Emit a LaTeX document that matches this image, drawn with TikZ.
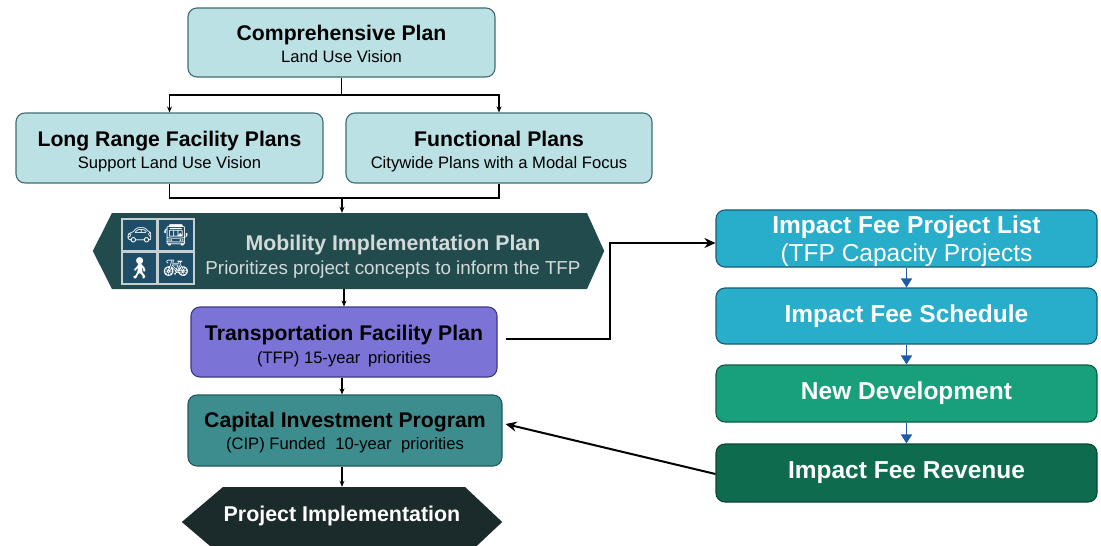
\documentclass[tikz,border=0pt]{standalone}
\usepackage{fontspec}
\setmainfont{Liberation Sans}
\newfontfamily\emojifont{Noto Emoji}
\usetikzlibrary{arrows.meta}
\definecolor{lteal}{HTML}{BCE1E4}
\definecolor{ltealdraw}{HTML}{3F6E72}
\definecolor{mipc}{HTML}{214B4C}
\definecolor{miptext}{HTML}{D3DADA}
\definecolor{iconc}{HTML}{1E4D68}
\definecolor{iconframe}{HTML}{C5CFCF}
\definecolor{tfpc}{HTML}{7B74D6}
\definecolor{tfpdraw}{HTML}{3C3788}
\definecolor{cipc}{HTML}{3D8C8E}
\definecolor{cipdraw}{HTML}{245A5C}
\definecolor{pic}{HTML}{1B2A2A}
\definecolor{cyanc}{HTML}{28AECB}
\definecolor{cyandraw}{HTML}{1A5C78}
\definecolor{ndc}{HTML}{18A07A}
\definecolor{nddraw}{HTML}{0F5844}
\definecolor{ifrc}{HTML}{0F6B4D}
\definecolor{ifrdraw}{HTML}{0A4634}
\definecolor{bluearrow}{HTML}{1F5AA6}
\newcommand\ttlfont{\fontsize{21.2}{25}\selectfont\bfseries}
\newcommand\subfont{\fontsize{16.6}{19}\selectfont}
\newcommand\topstrut[1]{\rule{0pt}{#1}}
\begin{document}
\begin{tikzpicture}[x=1pt,y=-1pt,
  plan/.style={rectangle, rounded corners=9pt, line width=1.1pt, align=center, inner sep=0pt,
    font=\fontsize{16.6}{22}\selectfont},
  lbox/.style={plan, fill=lteal, draw=ltealdraw},
  rbox/.style={plan, text=white, font=\fontsize{24.5}{28}\selectfont\bfseries, minimum width=381pt},
  ghost/.style={rectangle, inner sep=0pt, align=center},
  conn/.style={line width=1.2pt, -{Stealth[length=6pt,width=5pt]}},
  bigconn/.style={line width=2pt, -{Stealth[length=11pt,width=10pt]}},
  blueconn/.style={line width=1.4pt, draw=bluearrow, -{Triangle[length=9pt,width=11pt,fill=bluearrow]}},
]
\useasboundingbox (0,0) rectangle (1101,546);
\clip (0,0) rectangle (1101,546);
\fill[white] (0,0) rectangle (1101,546);

% top boxes
\node[lbox, minimum width=307pt, minimum height=69pt] (comp) at (341.5,42.5)
  {{\ttlfont\topstrut{17.5pt}Comprehensive Plan}\\{\subfont Land Use Vision}};
\node[lbox, minimum width=307pt, minimum height=70pt] (lrfp) at (169.5,148)
  {{\ttlfont\topstrut{22.5pt}Long Range Facility Plans}\\{\subfont Support Land Use Vision}};
\node[lbox, minimum width=306pt, minimum height=70pt] (func) at (499,148)
  {{\ttlfont\topstrut{22.5pt}Functional Plans}\\{\subfont Citywide Plans with a Modal Focus}};

% Mobility Implementation Plan (hexagon)
\node[ghost, minimum width=511pt, minimum height=76pt] (mip) at (348.5,251) {};
\fill[mipc] (mip.west) -- (112,213) -- (587,213) -- (mip.east) -- (587,289) -- (112,289) -- cycle;
\node[ghost, text=miptext, anchor=center, font=\fontsize{18.8}{24}\selectfont] (miptxt) at (393,253)
  {{\fontsize{21.3}{25}\selectfont\bfseries\topstrut{22pt}Mobility Implementation Plan}\\{\fontsize{18.8}{22}\selectfont Prioritizes project concepts to inform the TFP}};
% icons
\fill[iconframe] (121,218) rectangle (195,285);
\fill[iconc] (123,220) rectangle (156,250);
\fill[iconc] (159,220) rectangle (193,250);
\fill[iconc] (123,253) rectangle (156,283);
\fill[iconc] (159,253) rectangle (193,283);
\node[ghost, text=white, font=\emojifont\fontsize{21}{21}\selectfont] (icar) at (139.5,235) {🚗};
\node[ghost, text=white, font=\emojifont\fontsize{21}{21}\selectfont] (ibus) at (176,235) {🚍};
\node[ghost, text=white, font=\emojifont\fontsize{21}{21}\selectfont] (iped) at (139.5,268) {🚶};
\node[ghost, text=white, font=\emojifont\fontsize{21}{21}\selectfont] (ibike) at (176,268) {🚲};

% TFP
\node[plan, fill=tfpc, draw=tfpdraw, minimum width=306pt, minimum height=70pt,
      font=\fontsize{16.6}{23.5}\selectfont] (tfp) at (344,342)
  {{\ttlfont\topstrut{23.5pt}Transportation Facility Plan}\\{\subfont (TFP) 15-year\hspace{0.2em} priorities}};
% CIP
\node[plan, fill=cipc, draw=cipdraw, minimum width=314pt, minimum height=71pt,
      font=\fontsize{16.6}{22.5}\selectfont] (cip) at (345,430.5)
  {{\ttlfont\topstrut{19.5pt}Capital Investment Program}\\{\subfont (CIP) Funded\hspace{0.3em} 10-year\hspace{0.3em} priorities}};
% Project Implementation
\node[ghost, minimum width=320pt, minimum height=70pt] (pi) at (342,522) {};
\fill[pic] (pi.west) -- (223,487) -- (465,487) -- (pi.east) -- (465,557) -- (223,557) -- cycle;
\node[ghost, text=white, font=\fontsize{21.4}{25}\selectfont\bfseries] (pitxt) at (342,516) {Project Implementation};

% right column
\node[rbox, fill=cyanc, draw=cyandraw, minimum height=57pt] (ifpl) at (906.5,238.5)
  {\topstrut{24pt}Impact Fee Project List\\{\mdseries (TFP Capacity Projects}};
\node[rbox, fill=cyanc, draw=cyandraw, minimum height=56pt] (ifs) at (906.5,316) {Impact Fee Schedule};
\node[rbox, fill=ndc, draw=nddraw, minimum height=57pt] (nd) at (906.5,393.5) {New Development};
\node[rbox, fill=ifrc, draw=ifrdraw, minimum height=58pt] (ifr) at (906.5,473) {Impact Fee Revenue};

% connectors, left column
\coordinate (j1) at (341.5,95);
\draw[line width=1.2pt] (comp.south) -- (j1);
\draw[conn] (j1) -| (lrfp.north);
\draw[conn] (j1) -| (func.north);
\coordinate (j2) at (342,198);
\draw[line width=1.2pt] (lrfp.south) |- (j2);
\draw[line width=1.2pt] (func.south) |- (j2);
\draw[conn] (j2) -- (j2 |- mip.north);
\draw[conn] (tfp.north |- mip.south) -- (tfp.north);
\draw[conn] (tfp.south -| j2) -- (j2 |- cip.north);
\draw[conn] (cip.south -| j2) -- (j2 |- pi.north);

% TFP -> Impact Fee Project List
\coordinate (s1) at ([xshift=8pt,yshift=3pt]tfp.east);
\coordinate (bend) at (610,243);
\draw[bigconn] (s1) -| (bend) -- (bend -| ifpl.west);

% right column arrows
\draw[blueconn] (ifpl.south) -- (ifs.north);
\draw[blueconn] (ifs.south) -- (nd.north);
\draw[blueconn] (nd.south) -- (ifr.north);

% Revenue -> CIP
\draw[bigconn] ([yshift=-1pt]ifr.west) -- ([xshift=3pt,yshift=6.5pt]cip.east);
\end{tikzpicture}
\end{document}
